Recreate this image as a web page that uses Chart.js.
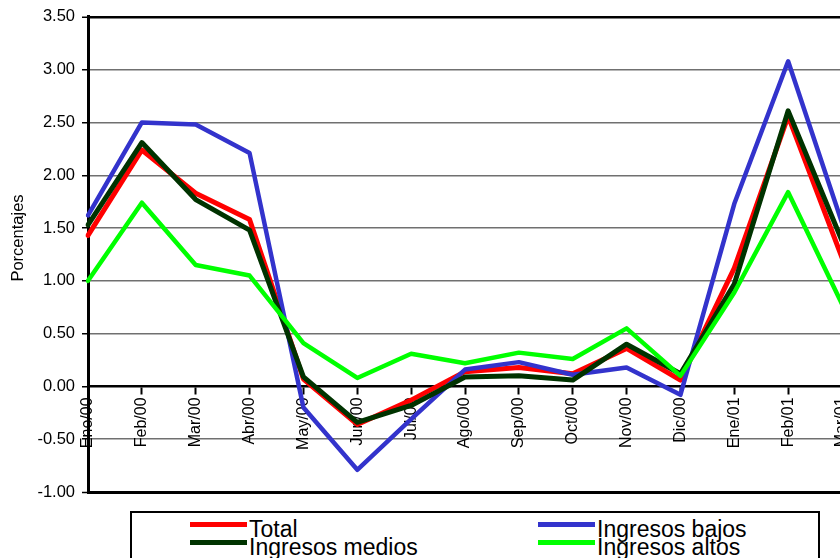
<!DOCTYPE html>
<html>
<head>
<meta charset="utf-8">
<script src="https://cdn.jsdelivr.net/npm/chart.js@4/dist/chart.umd.min.js"></script>
<style>
  html, body { margin:0; padding:0; background:#fff; overflow:hidden; width:840px; height:558px; }
  #wrap { position:absolute; left:0; top:0; width:870px; height:558px; }
  #legend { position:absolute; left:130px; top:511px; width:690px; height:80px; border:2px solid #000; box-sizing:border-box; background:#fff; }
  .item { position:absolute; font-family:"Liberation Sans", Arial, sans-serif; font-size:23px; line-height:23px; color:#000; white-space:nowrap; }
  .sw { position:absolute; width:57px; height:5px; }
</style>
</head>
<body>
<div id="wrap"><canvas id="c" width="870" height="558"></canvas></div>
<div id="legend"></div>
<script>
const categories = ["Ene/00","Feb/00","Mar/00","Abr/00","May/00","Jun/00","Jul/00","Ago/00","Sep/00","Oct/00","Nov/00","Dic/00","Ene/01","Feb/01","Mar/01"];
const total   = [1.43, 2.24, 1.83, 1.58, 0.07, -0.36, -0.13, 0.14, 0.18, 0.12, 0.36, 0.06, 1.12, 2.56, 1.22];
const bajos   = [1.62, 2.50, 2.48, 2.21, -0.20, -0.79, -0.31, 0.16, 0.23, 0.11, 0.18, -0.08, 1.73, 3.08, 1.55];
const medios  = [1.53, 2.31, 1.77, 1.48, 0.09, -0.34, -0.18, 0.09, 0.10, 0.06, 0.40, 0.12, 0.97, 2.61, 1.38];
const altos   = [1.00, 1.74, 1.15, 1.05, 0.41, 0.08, 0.31, 0.22, 0.32, 0.26, 0.55, 0.10, 0.89, 1.84, 0.78];
const yTicks  = [-1.00, -0.50, 0.00, 0.50, 1.00, 1.50, 2.00, 2.50, 3.00, 3.50];
const yTitle  = "Porcentajes";
const seriesNames = ["Total", "Ingresos bajos", "Ingresos medios", "Ingresos altos"];

const colors = { total:"#FF0000", bajos:"#3333CC", medios:"#003300", altos:"#00FF00" };

const yTitlePlugin = {
  id: 'yTitle',
  afterDraw(chart) {
    const ctx = chart.ctx;
    ctx.save();
    ctx.translate(18, 238);
    ctx.rotate(-Math.PI/2);
    ctx.font = '16.5px "Liberation Sans", Arial, sans-serif';
    ctx.fillStyle = '#000';
    ctx.textAlign = 'center';
    ctx.textBaseline = 'middle';
    ctx.fillText(yTitle, 0, 0);
    ctx.restore();
  }
};

const chart = new Chart(document.getElementById('c'), {
  type: 'line',
  data: {
    labels: categories,
    datasets: [
      { label: seriesNames[0], data: total,  borderColor: colors.total,  borderWidth: 5, order: 3 },
      { label: seriesNames[1], data: bajos,  borderColor: colors.bajos,  borderWidth: 4.5, order: 2 },
      { label: seriesNames[2], data: medios, borderColor: colors.medios, borderWidth: 5, order: 1 },
      { label: seriesNames[3], data: altos,  borderColor: colors.altos,  borderWidth: 4.5, order: 0 }
    ]
  },
  options: {
    responsive: false,
    animation: false,
    devicePixelRatio: 1,
    layout: { padding: { top: 16, bottom: 66, left: 0, right: 28 } },
    elements: { point: { radius: 0 }, line: { tension: 0, borderCapStyle: 'round', borderJoinStyle: 'round' } },
    plugins: { legend: { display: false }, tooltip: { enabled: false } },
    scales: {
      x: {
        type: 'category',
        offset: false,
        position: { y: 0 },
        grid: { drawOnChartArea: false, drawTicks: true, tickLength: 7, tickWidth: 2, tickColor: '#000' },
        border: { display: true, color: '#000', width: 2.5 },
        ticks: {
          autoSkip: false, minRotation: 90, maxRotation: 90, padding: 4,
          color: '#000',
          font: { family: '"Liberation Sans", Arial, sans-serif', size: 16 }
        }
      },
      y: {
        min: -1, max: 3.5,
        afterFit(scale) { scale.width = 88; },
        afterBuildTicks(scale) { scale.ticks = yTicks.map(v => ({ value: v })); },
        grid: {
          drawTicks: true, tickLength: 6,
          color: (c) => (c.tick && (c.tick.value === 3.5 || c.tick.value === -1)) ? '#000' : (c.tick && c.tick.value === 0 ? 'rgba(0,0,0,0)' : '#707070'),
          lineWidth: (c) => (c.tick && (c.tick.value === 3.5)) ? 2.5 : ((c.tick && c.tick.value === -1) ? 3 : 1.5),
          tickColor: '#000', tickWidth: 1.5
        },
        border: { display: true, color: '#000', width: 3 },
        ticks: {
          padding: 7, color: '#000',
          font: { family: '"Liberation Sans", Arial, sans-serif', size: 16.5 },
          callback: (v) => Number(v).toFixed(2)
        }
      }
    }
  },
  plugins: [yTitlePlugin]
});

// legend built from the chart's datasets
const legend = document.getElementById('legend');
const pos = [ {x:58, y:0}, {x:406, y:0}, {x:58, y:18}, {x:406, y:18} ];
chart.data.datasets.forEach((ds, i) => {
  const p = pos[i];
  const sw = document.createElement('div');
  sw.className = 'sw';
  sw.style.left = p.x + 'px';
  sw.style.top = (9 + p.y) + 'px';
  sw.style.background = ds.borderColor;
  legend.appendChild(sw);
  const t = document.createElement('div');
  t.className = 'item';
  t.style.left = (p.x + 59) + 'px';
  t.style.top = (5 + p.y) + 'px';
  t.textContent = ds.label;
  legend.appendChild(t);
});
</script>
</body>
</html>
